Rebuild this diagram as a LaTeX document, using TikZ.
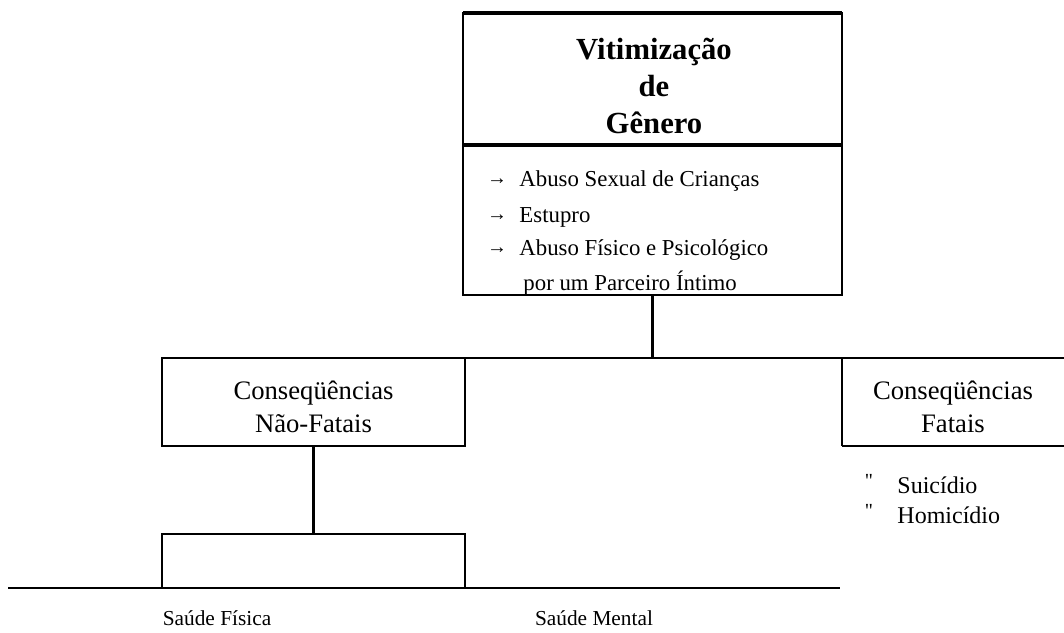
\documentclass[tikz,border=0pt]{standalone}
\usepackage{fontspec}
\setmainfont{Liberation Serif}
\newfontfamily\rawserif{Liberation Serif}[Ligatures=TeXOff]
\begin{document}
\begin{tikzpicture}[x=0.75pt,y=-0.75pt,
  line width=2.2pt,
  boxnode/.style={draw, line width=2.2pt, inner sep=0pt, outer sep=0pt, minimum width=#1},
  titletext/.style={font=\fontsize{23}{28}\selectfont\bfseries, align=center, inner sep=0pt},
  itemtext/.style={font=\fontsize{17.1}{20}\selectfont, anchor=west, inner sep=0pt},
  midtext/.style={font=\fontsize{20}{24.75}\selectfont, align=center, inner sep=0pt},
  labeltext/.style={font=\fontsize{16}{20}\selectfont, inner sep=0pt},
  fataltext/.style={font=\fontsize{18}{20}\selectfont, anchor=west, inner sep=0pt},
  arrowmark/.style={font=\rawserif\fontsize{15}{16}\selectfont, inner sep=0pt},
  quotemark/.style={font=\rawserif\fontsize{15}{16}\selectfont, inner sep=0pt}
]
\useasboundingbox (0,0) rectangle (1064,632);

% top box
\node[boxnode=284.25pt, minimum height=99pt] (title) at (652.5,79) {};
\node[boxnode=284.25pt, minimum height=112.5pt] (list) at (652.5,220) {};
\draw[line width=3pt] (title.north west) -- (title.north east);
\draw[line width=2.8pt] (title.south west) -- (title.south east);
\node[titletext] (ttxt) at (654,86) {Vitimização\\de\\Gênero};

% list items
\node[arrowmark] (a1) at (497,182) {→};
\node[itemtext] (i1) at (518,181) {Abuso Sexual de Crianças};
\node[arrowmark] (a2) at (497,218) {→};
\node[itemtext] (i2) at (518,217) {Estupro};
\node[arrowmark] (a3) at (497,251) {→};
\node[itemtext] (i3) at (518,250) {Abuso Físico e Psicológico};
\node[itemtext] (i4) at (522,283) {por um Parceiro Íntimo};

% consequences
\node[boxnode=227.25pt, minimum height=66pt] (nf) at (313.5,402) {};
\node[midtext] (nftxt) at (313.5,407) {Conseqüências\\Não-Fatais};
\coordinate (fl) at (842,446);
\coordinate (ftop) at (842,358);
\coordinate (re) at (1066,358);
\coordinate (fr) at (1066,446);
\draw (fl) -- (ftop);
\draw (fl) -- (fr);
\draw (nf.north east) -- (re);
\node[midtext] (ftxt) at (953,407) {Conseqüências\\Fatais};

\draw (list.south) -- (list.south |- nf.north);

% fatal list
\node[quotemark] (q1) at (869,481) {"};
\node[fataltext] (s1) at (896,485) {Suicídio};
\node[quotemark] (q2) at (869,511) {"};
\node[fataltext] (s2) at (896,515) {Homicídio};

% lower structure
\node[boxnode=227.25pt, minimum height=40.5pt] (split) at (313.5,561) {};
\draw (nf.south) -- (split.north);
\coordinate (bl) at (8,588);
\coordinate (br) at (840,588);
\draw (bl) -- (br);

\node[labeltext] (phys) at (217,618) {Saúde Física};
\node[labeltext] (ment) at (594,618) {Saúde Mental};
\end{tikzpicture}
\end{document}
